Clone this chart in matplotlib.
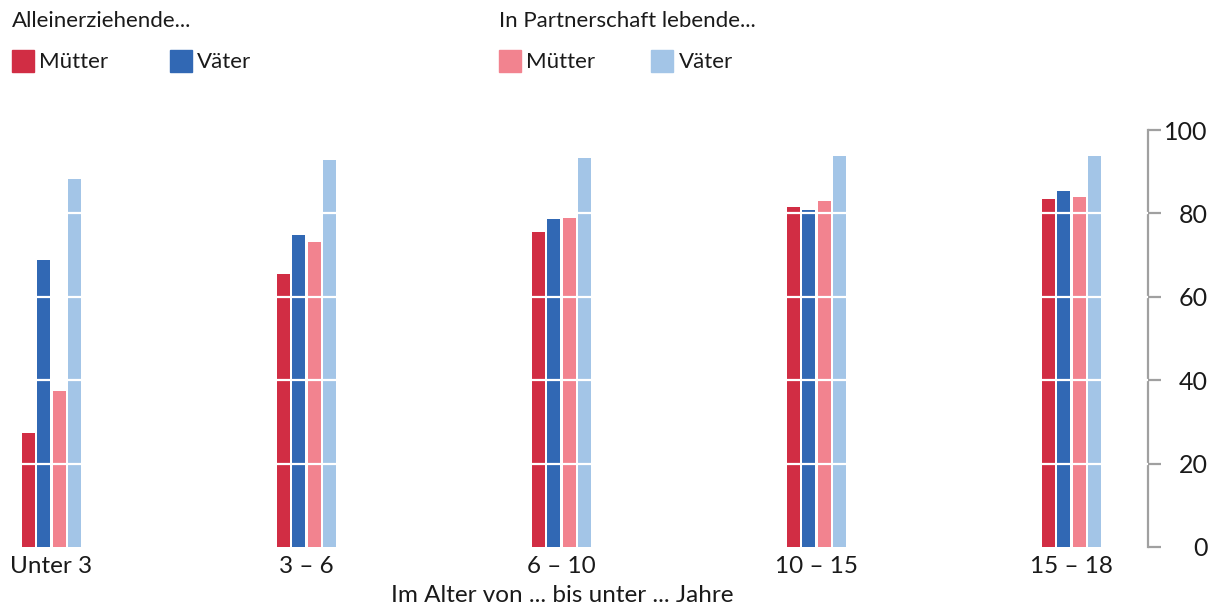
import matplotlib
matplotlib.use("Agg")
import matplotlib.pyplot as plt
from matplotlib.patches import Rectangle
import numpy as np

categories = ["Unter 3", "3 – 6", "6 – 10", "10 – 15", "15 – 18"]
series_names = ["Mütter", "Väter", "Mütter", "Väter"]
allein_muetter = [27.3, 65.5, 75.5, 81.5, 83.5]
allein_vaeter = [68.8, 74.8, 78.7, 80.8, 85.4]
partner_muetter = [37.4, 73.1, 78.9, 83.0, 83.9]
partner_vaeter = [88.2, 92.8, 93.3, 93.8, 93.8]
yticks = [0, 20, 40, 60, 80, 100]
xlabel = "Im Alter von ... bis unter ... Jahre"
group_titles = ["Alleinerziehende...", "In Partnerschaft lebende..."]

colors = ["#D12D44", "#3168B4", "#F2838F", "#A3C5E7"]

plt.rcParams['font.family'] = ['Lato', 'DejaVu Sans']
FS_LEG = 16
FS_AX = 17.5
FS_Y = 18
TXT = "#1a1a1a"

W, H = 1218, 607
fig = plt.figure(figsize=(W / 100, H / 100), dpi=100)
ax = fig.add_axes([0 / W, (H - 547) / H, 1148 / W, (547 - 130) / H])

x = np.arange(len(categories))
data = [allein_muetter, allein_vaeter, partner_muetter, partner_vaeter]
step = 15.3 / 255
width = 13 / 255
for i, (vals, c) in enumerate(zip(data, colors)):
    ax.bar(x + (i - 1.5) * step, vals, width=width, color=c, zorder=2)

for yv in [20, 40, 60, 80]:
    ax.axhline(yv, color="white", lw=1.6, zorder=3)

ax.set_xlim(-51.5 / 255, (1148 - 51.5) / 255)
ax.set_ylim(0, 100)
for s in ["left", "top", "bottom"]:
    ax.spines[s].set_visible(False)
ax.spines["right"].set_color("#A0A0A0")
ax.spines["right"].set_linewidth(1.6)
ax.yaxis.tick_right()
ax.set_yticks(yticks)
ax.set_yticklabels([str(v) for v in yticks], fontsize=FS_Y, color=TXT)
ax.tick_params(axis="y", direction="out", length=9, width=1.6, color="#A0A0A0")
for lab in ax.get_yticklabels():
    lab.set_horizontalalignment("right")
ax.tick_params(axis="y", pad=34)
ax.set_xticks(x)
ax.set_xticklabels(categories, fontsize=FS_AX, color=TXT)
ax.tick_params(axis="x", length=0, pad=6.5)

def px(xp, yp):
    return xp / W, 1 - yp / H

fig.text(*px(562, 602), xlabel, fontsize=FS_AX, va="baseline", ha="center", color=TXT)

# legend
fig.text(*px(12, 21), group_titles[0], fontsize=FS_LEG, va="center", ha="left", color=TXT)
fig.text(*px(499, 21), group_titles[1], fontsize=FS_LEG, va="center", ha="left", color=TXT)
legend_pos = [(12, 39), (170, 197), (499, 526), (651, 679)]
for (px0, tx), c, name in zip(legend_pos, colors, series_names):
    fig.patches.append(Rectangle(px(px0, 72), 22 / W, 22 / H, transform=fig.transFigure,
                                 color=c, figure=fig))
    fig.text(*px(tx, 62), name, fontsize=FS_LEG, va="center", ha="left", color=TXT)

fig.savefig("out.png", dpi=100)
